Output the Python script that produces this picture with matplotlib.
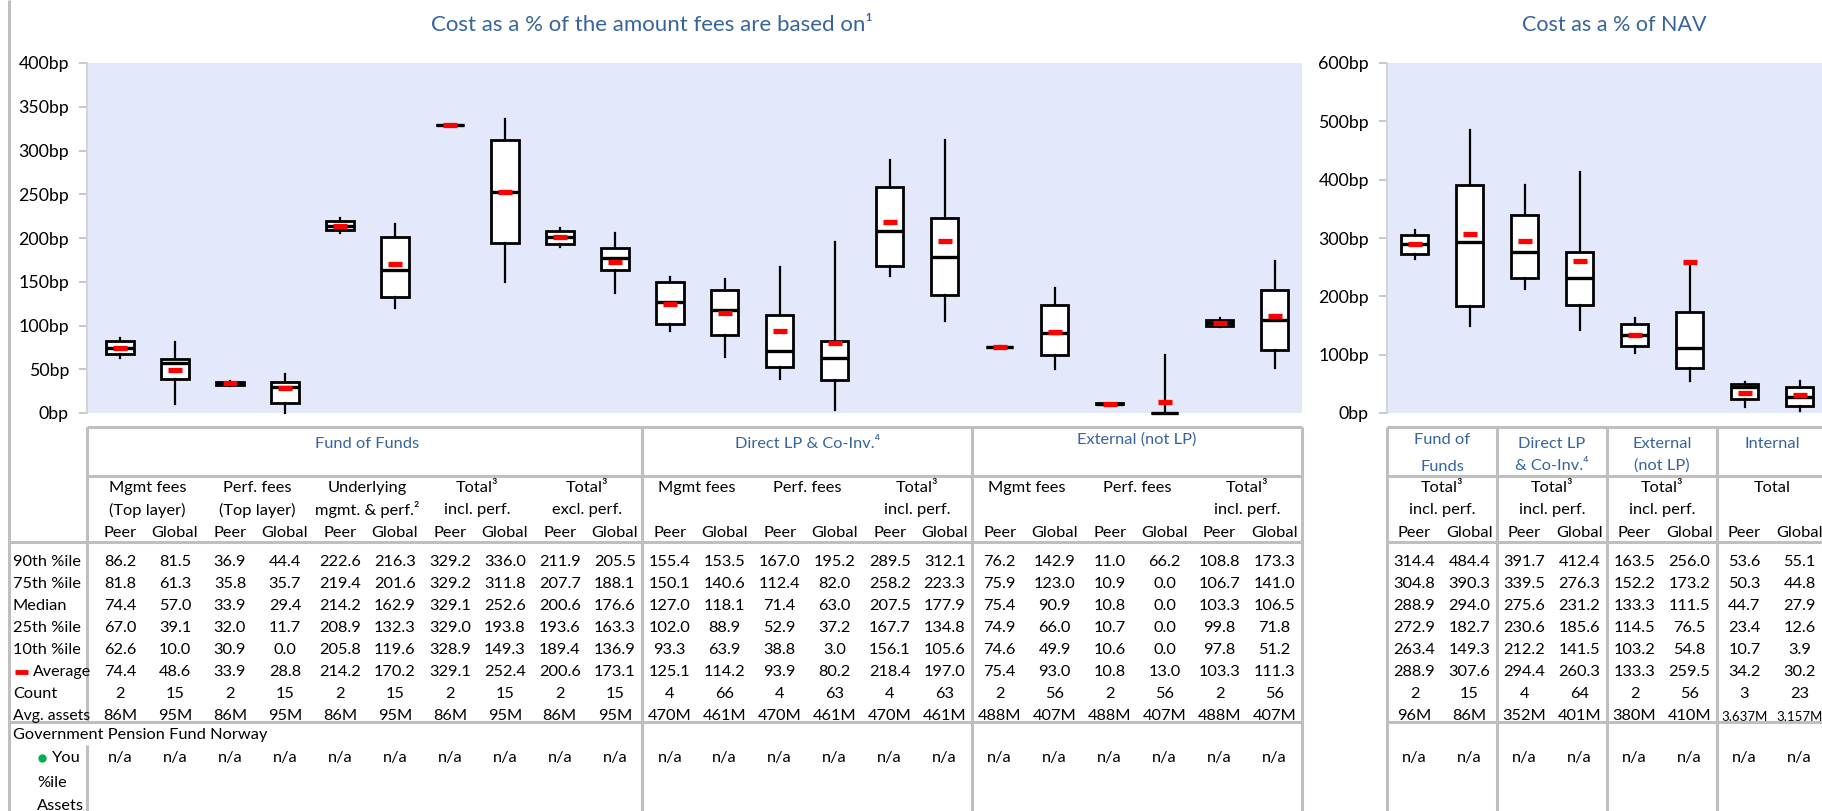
import numpy as np
import matplotlib
matplotlib.use('Agg')
import matplotlib.pyplot as plt
import matplotlib.transforms as mtransforms
from matplotlib.lines import Line2D

plt.rcParams['font.family'] = ['Lato', 'DejaVu Sans']

W, H = 1822, 811

# ---------------- cost as a % of the amount fees are based on ----------------
amt_p90 = [86.2, 81.5, 36.9, 44.4, 222.6, 216.3, 329.2, 336.0, 211.9, 205.5,
           155.4, 153.5, 167.0, 195.2, 289.5, 312.1,
           76.2, 142.9, 11.0, 66.2, 108.8, 173.3]
amt_p75 = [81.8, 61.3, 35.8, 35.7, 219.4, 201.6, 329.2, 311.8, 207.7, 188.1,
           150.1, 140.6, 112.4, 82.0, 258.2, 223.3,
           75.9, 123.0, 10.9, 0.0, 106.7, 141.0]
amt_med = [74.4, 57.0, 33.9, 29.4, 214.2, 162.9, 329.1, 252.6, 200.6, 176.6,
           127.0, 118.1, 71.4, 63.0, 207.5, 177.9,
           75.4, 90.9, 10.8, 0.0, 103.3, 106.5]
amt_p25 = [67.0, 39.1, 32.0, 11.7, 208.9, 132.3, 329.0, 193.8, 193.6, 163.3,
           102.0, 88.9, 52.9, 37.2, 167.7, 134.8,
           74.9, 66.0, 10.7, 0.0, 99.8, 71.8]
amt_p10 = [62.6, 10.0, 30.9, 0.0, 205.8, 119.6, 328.9, 149.3, 189.4, 136.9,
           93.3, 63.9, 38.8, 3.0, 156.1, 105.6,
           74.6, 49.9, 10.6, 0.0, 97.8, 51.2]
amt_avg = [74.4, 48.6, 33.9, 28.8, 214.2, 170.2, 329.1, 252.4, 200.6, 173.1,
           125.1, 114.2, 93.9, 80.2, 218.4, 197.0,
           75.4, 93.0, 10.8, 13.0, 103.3, 111.3]
amt_count = [2, 15, 2, 15, 2, 15, 2, 15, 2, 15,
             4, 66, 4, 63, 4, 63,
             2, 56, 2, 56, 2, 56]
amt_assets = ['86M', '95M'] * 5 + ['470M', '461M'] * 3 + ['488M', '407M'] * 3

amt_groups = ['Fund of Funds', 'Direct LP & Co-Inv.⁴', 'External (not LP)']
amt_group_span = [(1, 10), (11, 16), (17, 22)]
amt_subheads = ['Mgmt fees\n(Top layer)', 'Perf. fees\n(Top layer)',
                'Underlying\nmgmt. & perf.²', 'Total³\nincl. perf.', 'Total³\nexcl. perf.',
                'Mgmt fees\n', 'Perf. fees\n', 'Total³\nincl. perf.',
                'Mgmt fees\n', 'Perf. fees\n', 'Total³\nincl. perf.']

# ---------------- cost as a % of NAV ----------------
nav_p90 = [314.4, 484.4, 391.7, 412.4, 163.5, 256.0, 53.6, 55.1]
nav_p75 = [304.8, 390.3, 339.5, 276.3, 152.2, 173.2, 50.3, 44.8]
nav_med = [288.9, 294.0, 275.6, 231.2, 133.3, 111.5, 44.7, 27.9]
nav_p25 = [272.9, 182.7, 230.6, 185.6, 114.5, 76.5, 23.4, 12.6]
nav_p10 = [263.4, 149.3, 212.2, 141.5, 103.2, 54.8, 10.7, 3.9]
nav_avg = [288.9, 307.6, 294.4, 260.3, 133.3, 259.5, 34.2, 30.2]
nav_count = [2, 15, 4, 64, 2, 56, 3, 23]
nav_assets = ['96M', '86M', '352M', '401M', '380M', '410M', '3,637M', '3,157M']

nav_groups = ['Fund of\nFunds', 'Direct LP\n& Co-Inv.⁴', 'External\n(not LP)', 'Internal']
nav_subheads = ['Total³\nincl. perf.', 'Total³\nincl. perf.', 'Total³\nincl. perf.', 'Total\n']

row_labels = ['90th %ile', '75th %ile', 'Median', '25th %ile', '10th %ile',
              'Average', 'Count', 'Avg. assets']
fund_name = 'Government Pension Fund Norway'

BLUE = '#36649E'
GRID = '#BFBFBF'
BG = '#E3E9FB'
FS = 11.8
ROW_Y = [562, 584, 606, 628, 650, 672, 694, 716]

fig = plt.figure(figsize=(W / 100, H / 100), dpi=100)


def fy(y):
    return 1 - y / H


def line(xs, ys, tr=None):
    fig.add_artist(Line2D(xs, [fy(v) for v in ys], transform=tr or fig.transFigure,
                          color=GRID, lw=2.2, solid_capstyle='butt'))


def box_axes(rect, x0, n, ymax, step):
    ax = fig.add_axes(rect)
    ax.set_facecolor(BG)
    ax.set_ylim(0, ymax)
    ax.set_yticks(np.arange(0, ymax + 1, step))
    ax.yaxis.set_major_formatter(lambda v, p: f'{v:.0f}bp')
    for s in ['top', 'right', 'bottom']:
        ax.spines[s].set_visible(False)
    ax.spines['left'].set_color('#D4D4D4')
    ax.spines['left'].set_linewidth(1.5)
    ax.tick_params(axis='y', colors='#BFBFBF', labelcolor='black', length=6,
                   width=1.2, labelsize=12.8, pad=7)
    ax.set_xlim(x0, n + 0.5)
    return ax


def draw_boxes(ax, p90, p75, med, p25, p10, avg):
    stats = [dict(med=m, q1=q1, q3=q3, whislo=lo, whishi=hi, fliers=[])
             for hi, q3, m, q1, lo in zip(p90, p75, med, p25, p10)]
    pos = np.arange(1, len(stats) + 1)
    parts = ax.bxp(stats, positions=pos, widths=0.5, showcaps=False, patch_artist=True,
                   manage_ticks=False,
                   boxprops=dict(facecolor='white', edgecolor='black', linewidth=2.0),
                   medianprops=dict(color='black', linewidth=2.4),
                   whiskerprops=dict(color='black', linewidth=1.6))
    for arts in parts.values():
        for a in arts:
            a.set_clip_on(False)
    ax.plot(pos, avg, ls='none', marker='_', ms=10, mew=3.8, color='red',
            zorder=6, clip_on=False)
    ax.set_xticks([])


def stat_table(ax, cols, count, assets, small=False):
    tr = mtransforms.blended_transform_factory(ax.transData, fig.transFigure)
    for i, c in enumerate(cols):
        x = i + 1
        for j, v in enumerate(c):
            ax.text(x, fy(ROW_Y[j]), f'{v:.1f}', transform=tr, ha='center',
                    va='center', fontsize=FS)
        ax.text(x, fy(ROW_Y[6]), str(count[i]), transform=tr, ha='center',
                va='center', fontsize=FS)
        fs = 9.5 if (small and len(assets[i]) > 4) else FS
        ax.text(x, fy(ROW_Y[7]), assets[i], transform=tr, ha='center',
                va='center', fontsize=fs)
        ax.text(x, fy(758), 'n/a', transform=tr, ha='center', va='center', fontsize=FS)
        ax.text(x, fy(533), 'Peer' if i % 2 == 0 else 'Global', transform=tr,
                ha='center', va='center', fontsize=FS)
    return tr


# ---------------- left chart ----------------
X0 = 0.4
ax1 = box_axes([87 / W, fy(413), 1215 / W, 350 / H], X0, 22, 400, 50)
draw_boxes(ax1, amt_p90, amt_p75, amt_med, amt_p25, amt_p10, amt_avg)
tr1 = stat_table(ax1, list(zip(amt_p90, amt_p75, amt_med, amt_p25, amt_p10, amt_avg)),
                 amt_count, amt_assets)

for k, head in enumerate(amt_subheads):
    top, bottom = head.split('\n')
    ax1.text(2 * k + 1.5, fy(488), top, transform=tr1, ha='center', va='center', fontsize=FS)
    if bottom:
        ax1.text(2 * k + 1.5, fy(510), bottom, transform=tr1, ha='center', va='center',
                 fontsize=FS)
for name, (a, b) in zip(amt_groups, amt_group_span):
    y = 440 if name.startswith('External') else 444
    ax1.text((a + b) / 2, fy(y), name, transform=tr1, ha='center', va='center',
             fontsize=FS, color=BLUE)

fig.text(652 / W, fy(25), 'Cost as a % of the amount fees are based on¹', ha='center',
         va='center', fontsize=16, color=BLUE)

# left table grid
line([X0, 22.5], [427, 427], tr1)
line([X0, 22.5], [476, 476], tr1)
line([9 / W, 1302 / W], [542, 542])
line([9 / W, 1302 / W], [722, 722])
line([X0, X0], [427, 722], tr1)
line([X0, X0], [745, 811], tr1)
for xs in [10.5, 16.5, 22.5]:
    line([xs, xs], [427, 811], tr1)
line([9 / W, 9 / W], [0, 811])

# row labels
for lab, y in zip(row_labels, ROW_Y):
    if lab == 'Average':
        fig.add_artist(Line2D([15 / W, 28 / W], [fy(y), fy(y)], color='red', lw=3.5,
                              solid_capstyle='butt'))
        fig.text(33 / W, fy(y), lab, ha='left', va='center', fontsize=FS - 0.3)
    elif lab == 'Avg. assets':
        fig.text(13 / W, fy(y), lab, ha='left', va='center', fontsize=FS - 0.5)
    else:
        fig.text(13 / W, fy(y), lab, ha='left', va='center', fontsize=FS)
fig.text(13 / W, fy(735), fund_name, ha='left', va='center', fontsize=FS)
fig.add_artist(Line2D([42 / W], [fy(758)], marker='o', ms=5, color='#00B050', ls='none'))
fig.text(52 / W, fy(758), 'You', ha='left', va='center', fontsize=FS)
fig.text(37 / W, fy(783), '%ile', ha='left', va='center', fontsize=FS)
fig.text(37 / W, fy(806), 'Assets', ha='left', va='center', fontsize=FS)

# ---------------- right chart ----------------
ax2 = box_axes([1387 / W, fy(413), 440 / W, 350 / H], 0.5, 8, 600, 100)
draw_boxes(ax2, nav_p90, nav_p75, nav_med, nav_p25, nav_p10, nav_avg)
tr2 = stat_table(ax2, list(zip(nav_p90, nav_p75, nav_med, nav_p25, nav_p10, nav_avg)),
                 nav_count, nav_assets, small=True)

for k, (grp, head) in enumerate(zip(nav_groups, nav_subheads)):
    x = 2 * k + 1.5
    g = grp.split('\n')
    if len(g) == 1:
        ax2.text(x, fy(444), g[0], transform=tr2, ha='center', va='center',
                 fontsize=FS, color=BLUE)
    else:
        y0, y1 = (440, 467) if k == 0 else (444, 466)
        ax2.text(x, fy(y0), g[0], transform=tr2, ha='center', va='center',
                 fontsize=FS, color=BLUE)
        ax2.text(x, fy(y1), g[1], transform=tr2, ha='center', va='center',
                 fontsize=FS, color=BLUE)
    top, bottom = head.split('\n')
    ax2.text(x, fy(488), top, transform=tr2, ha='center', va='center', fontsize=FS)
    if bottom:
        ax2.text(x, fy(510), bottom, transform=tr2, ha='center', va='center', fontsize=FS)

fig.text(1614 / W, fy(25), 'Cost as a % of NAV', ha='center', va='center',
         fontsize=15.5, color=BLUE)

for y in [427, 476, 542, 722]:
    line([0.5, 8.6], [y, y], tr2)
for xs in [0.5, 2.5, 4.5, 6.5]:
    line([xs, xs], [427, 811], tr2)

fig.savefig('out.png', dpi=100)
